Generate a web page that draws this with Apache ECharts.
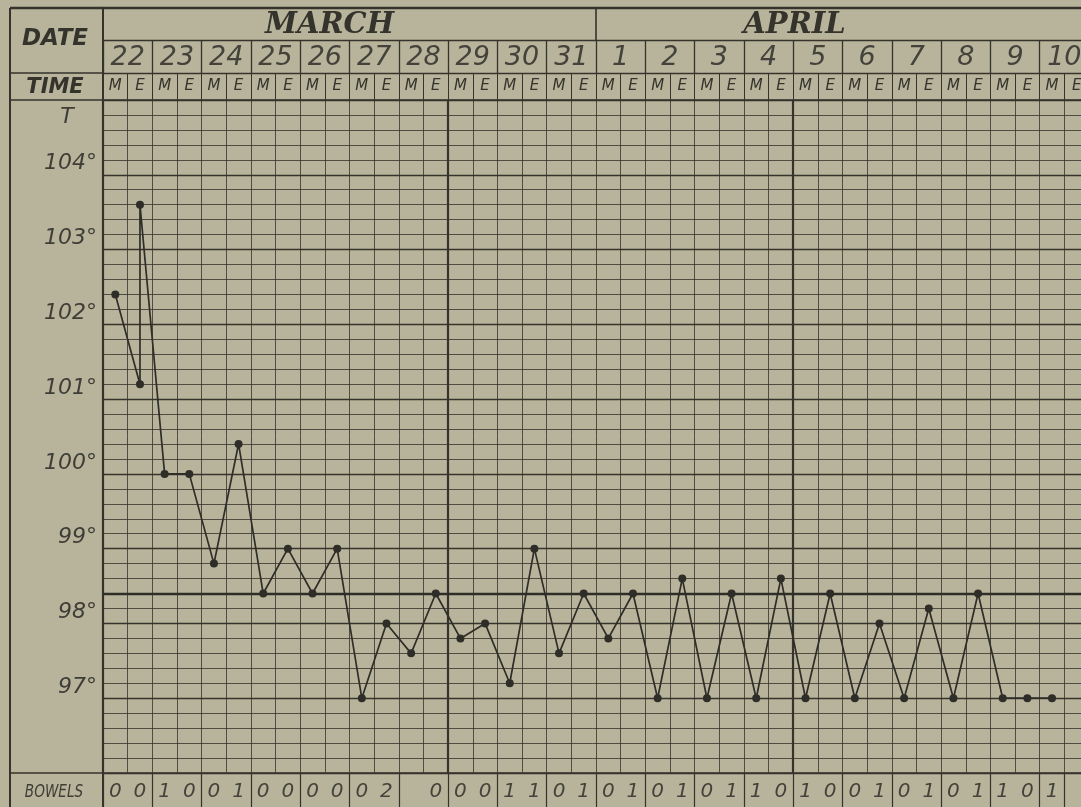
<!DOCTYPE html>
<html>
<head>
<meta charset="utf-8">
<script src="https://cdn.jsdelivr.net/npm/echarts/dist/echarts.min.js"></script>
<style>
  html, body { margin: 0; padding: 0; background: #b8b49b; }
  #chart { width: 1081px; height: 807px; }
</style>
</head>
<body>
<div id="chart"></div>
<script>
// ---------------- data ----------------
const months = ['MARCH', 'APRIL'];
const dates = ['22', '23', '24', '25', '26', '27', '28', '29', '30', '31',
               '1', '2', '3', '4', '5', '6', '7', '8', '9', '10'];
const times = ['M', 'E'];
// half-day slot (0 = 22 M, 1 = 22 E, ...) of each temperature reading
const readingSlot = [0, 1, 1, 2, 3, 4, 5, 6, 7, 8, 9, 10, 11, 12, 13, 14, 15, 16, 17, 18, 19,
                     20, 21, 22, 23, 24, 25, 26, 27, 28, 29, 30, 31, 32, 33, 34, 35, 36, 37, 38];
const temperature = [102.4, 101.2, 103.6, 100.0, 100.0, 98.8, 100.4, 98.4, 99.0, 98.4, 99.0,
                     97.0, 98.0, 97.6, 98.4, 97.8, 98.0, 97.2, 99.0, 97.6, 98.4,
                     97.8, 98.4, 97.0, 98.6, 97.0, 98.4, 97.0, 98.6, 97.0, 98.4,
                     97.0, 98.0, 97.0, 98.2, 97.0, 98.4, 97.0, 97.0, 97.0];
const bowels = ['0', '0', '1', '0', '0', '1', '0', '0', '0', '0', '0', '2', '', '0',
                '0', '0', '1', '1', '0', '1', '0', '1', '0', '1', '0', '1', '1', '0',
                '1', '0', '0', '1', '0', '1', '0', '1', '1', '0', '1', ''];
const tempTicks = [97, 98, 99, 100, 101, 102, 103, 104];
const normalTemperature = 98.4;

// ---------------- styling ----------------
const paper = '#b8b49b';
const ink = '#34332c';
const gridInk = 'rgba(50,48,40,0.78)';
const hand = '"DejaVu Sans", "Liberation Sans", sans-serif';

const halfDays = dates.flatMap(d => times.map(t => d + t));
const slotCount = halfDays.length;

const chart = echarts.init(document.getElementById('chart'));

const option = {
  backgroundColor: paper,
  animation: false,
  grid: { left: 103, top: 100, width: 986, height: 673, show: false, containLabel: false, outerBoundsMode: 'none' },
  xAxis: [
    { // 0: plotting axis, one rule per half day
      type: 'value', min: 0, max: slotCount, interval: 1,
      axisLine: { show: false }, axisTick: { show: false }, axisLabel: { show: false },
      splitLine: { show: true, lineStyle: { color: gridInk, width: 1 } }
    },
    { // 1: weekly heavy rules + top border of the plot
      type: 'value', min: 0, max: slotCount, interval: 14, position: 'top',
      axisLine: { show: true, onZero: false, lineStyle: { color: ink, width: 1.6 } },
      axisTick: { show: false }, axisLabel: { show: false },
      splitLine: { show: true, lineStyle: { color: ink, width: 2.2 } }
    },
    { // 2: TIME row
      type: 'category', data: halfDays, position: 'top', offset: 27,
      axisLine: { show: true, onZero: false, lineStyle: { color: ink, width: 1.4 } },
      axisTick: { show: true, inside: true, length: 27, interval: 0, lineStyle: { color: ink, width: 1 } },
      splitLine: { show: false },
      axisLabel: {
        inside: true, interval: 0, margin: 6,
        formatter: v => v.slice(-1),
        fontFamily: hand, fontStyle: 'italic', fontSize: 15, color: ink
      }
    },
    { // 3: DATE row
      type: 'category', data: dates, position: 'top', offset: 60,
      axisLine: { show: true, onZero: false, lineStyle: { color: ink, width: 1.4 } },
      axisTick: { show: true, inside: true, length: 33, interval: 0, lineStyle: { color: ink, width: 1.3 } },
      splitLine: { show: false },
      axisLabel: {
        inside: true, interval: 0, margin: 4,
        fontFamily: hand, fontStyle: 'italic', fontWeight: 200, fontSize: 27, color: '#44433b'
      }
    },
    { // 4: month row
      type: 'category', data: months, position: 'top', offset: 92,
      axisLine: { show: true, onZero: false, lineStyle: { color: ink, width: 2.4 } },
      axisTick: { show: true, inside: true, length: 32, interval: 0, lineStyle: { color: ink, width: 1.6 } },
      splitLine: { show: false },
      axisLabel: {
        inside: true, interval: 0, margin: 3,
        formatter: (v, i) => `{m${i}|${v}}`,
        rich: {
          m0: { padding: [0, 40, 0, 0], fontFamily: '"DejaVu Serif", serif', fontStyle: 'italic', fontWeight: 'bold', fontSize: 29, color: ink },
          m1: { padding: [0, 96, 0, 0], fontFamily: '"DejaVu Serif", serif', fontStyle: 'italic', fontWeight: 'bold', fontSize: 29, color: ink }
        }
      }
    },
    { // 5: BOWELS row
      type: 'category', data: halfDays, position: 'bottom',
      axisLine: { show: true, onZero: false, lineStyle: { color: ink, width: 1.5 } },
      axisTick: { show: true, length: 40, interval: 1, lineStyle: { color: ink, width: 1.2 } },
      splitLine: { show: false },
      axisLabel: {
        interval: 0, margin: 9,
        formatter: (v, i) => bowels[i],
        fontFamily: hand, fontStyle: 'italic', fontWeight: 200, fontSize: 20, color: '#44433b'
      }
    }
  ],
  yAxis: [
    { // 0: 0.2 degree rules
      type: 'value', min: 96, max: 105, interval: 0.2,
      axisLine: { show: true, onZero: false, lineStyle: { color: ink, width: 1.5 } },
      axisTick: { show: false }, axisLabel: { show: false },
      splitLine: { show: true, lineStyle: { color: gridInk, width: 1 } }
    },
    { // 1: whole degree rules + labels
      type: 'value', min: 96, max: 105, interval: 1, position: 'left',
      axisLine: { show: false }, axisTick: { show: false },
      splitLine: { show: true, lineStyle: { color: ink, width: 1.3 } },
      axisLabel: {
        margin: 6, verticalAlign: 'bottom', lineHeight: 22,
        formatter: v => tempTicks.includes(Math.round(v)) && Math.abs(v - Math.round(v)) < 1e-6 ? `${Math.round(v)}°` : '',
        fontFamily: hand, fontStyle: 'italic', fontWeight: 200, fontSize: 22, color: '#3e3d36'
      }
    }
  ],
  graphic: [
    { type: 'line', shape: { x1: 10, y1: 8, x2: 103, y2: 8 }, style: { stroke: ink, lineWidth: 2.4 } },
    { type: 'line', shape: { x1: 10, y1: 8, x2: 10, y2: 807 }, style: { stroke: ink, lineWidth: 2 } },
    { type: 'line', shape: { x1: 103, y1: 8, x2: 103, y2: 807 }, style: { stroke: ink, lineWidth: 2 } },
    { type: 'line', shape: { x1: 10, y1: 73, x2: 103, y2: 73 }, style: { stroke: ink, lineWidth: 1.4 } },
    { type: 'line', shape: { x1: 10, y1: 100, x2: 103, y2: 100 }, style: { stroke: ink, lineWidth: 1.6 } },
    { type: 'line', shape: { x1: 10, y1: 773, x2: 103, y2: 773 }, style: { stroke: ink, lineWidth: 1.5 } },
    { type: 'text', x: 55, y: 39, style: { text: 'DATE', x: 0, y: 0, align: 'center', verticalAlign: 'middle',
        font: 'italic bold 23px "DejaVu Sans", sans-serif', fill: ink } },
    { type: 'text', x: 55, y: 88, style: { text: 'TIME', x: 0, y: 0, align: 'center', verticalAlign: 'middle',
        font: 'italic bold 21px "DejaVu Sans", sans-serif', fill: ink } },
    { type: 'text', x: 67, y: 117, style: { text: 'T', x: 0, y: 0, align: 'center', verticalAlign: 'middle',
        font: 'italic 200 22px "DejaVu Sans", sans-serif', fill: '#3e3d36' } },
    { type: 'text', x: 54, y: 793, scaleX: 0.8, style: { text: 'BOWELS', x: 0, y: 0, align: 'center', verticalAlign: 'middle',
        font: 'italic 200 17px "DejaVu Sans", sans-serif', fill: '#3e3d36' } }
  ],
  series: [
    {
      type: 'line', xAxisIndex: 0, yAxisIndex: 0,
      data: readingSlot.map((s, i) => [s + 0.5, temperature[i]]),
      symbol: 'circle', symbolSize: 8,
      itemStyle: { color: '#2e2d28' },
      lineStyle: { color: '#2e2d28', width: 1.7 },
      z: 5,
      markLine: {
        silent: true, symbol: ['none', 'none'], label: { show: false },
        lineStyle: { color: '#2e2d28', width: 2.4, type: 'solid' },
        data: [{ yAxis: normalTemperature }]
      }
    }
  ]
};
chart.setOption(option);
</script>
</body>
</html>
